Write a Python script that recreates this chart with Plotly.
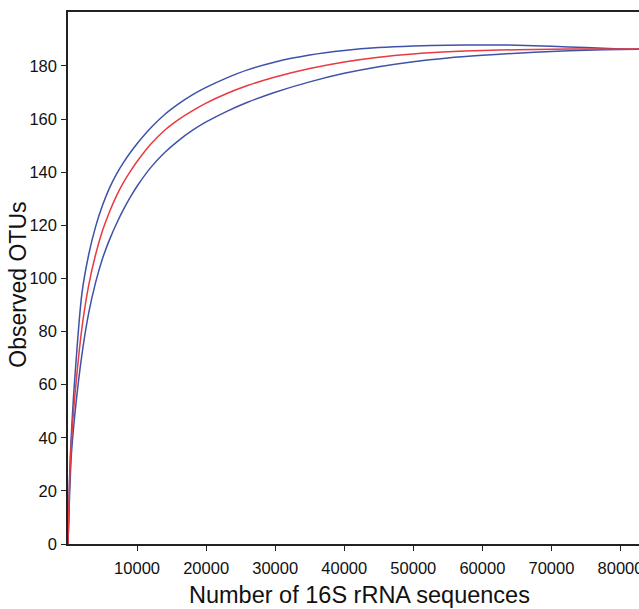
import plotly.graph_objects as go

# Number of 16S rRNA sequences (x) and observed OTUs (mean and bounds)
sequences = [0, 250, 500, 1000, 2000, 3000, 4000, 5000, 6000, 7000, 8000, 9000,
             10000, 12000, 14000, 16000, 18000, 20000, 23000, 26000, 30000,
             35000, 40000, 45000, 50000, 55000, 60000, 65000, 70000, 75000,
             80000, 85000]
otus_mean = [0, 25, 39, 56, 81, 97.5, 109, 118, 125, 131, 136, 140.2,
             144, 150.6, 155.8, 159.8, 163.1, 166, 169.6, 172.6, 175.8,
             179, 181.5, 183.3, 184.5, 185.3, 185.8, 186.1, 186.3, 186.4,
             186.4, 186.4]
otus_upper = [0, 27, 42, 63, 94, 109, 119.5, 127.5, 134, 139.2, 143.5, 147.3,
              150.7, 156.7, 161.7, 165.7, 169.1, 171.9, 175.5, 178.5, 181.5,
              184.1, 185.8, 186.9, 187.5, 187.8, 187.9, 187.8, 187.4, 186.9,
              186.4, 186.2]
otus_lower = [0, 20, 34, 49, 71, 87, 98.5, 107.5, 114.5, 120.5, 125.8, 130.5,
              134.7, 141.8, 147.4, 151.9, 155.7, 158.9, 162.9, 166.3, 170.1,
              174.0, 177.2, 179.7, 181.6, 183, 184, 184.8, 185.4, 185.9,
              186.2, 186.3]

x_ticks = [10000, 20000, 30000, 40000, 50000, 60000, 70000, 80000]
x_tick_labels = ["10000", "20000", "30000", "40000", "50000", "60000", "70000", "80000"]
y_ticks = [0, 20, 40, 60, 80, 100, 120, 140, 160, 180]

BLUE = "rgb(62,82,168)"
RED = "rgb(232,58,64)"

fig = go.Figure()
for ys, col in [(otus_upper, BLUE), (otus_lower, BLUE), (otus_mean, RED)]:
    fig.add_trace(go.Scatter(x=sequences, y=ys, mode="lines",
                             line=dict(color=col, width=1.5, shape="spline", smoothing=0.8),
                             showlegend=False, hoverinfo="skip"))

fig.update_layout(
    width=639, height=609,
    margin=dict(l=68, r=0, t=12, b=65),
    paper_bgcolor="white", plot_bgcolor="white",
    font=dict(family="Liberation Sans, Arial, sans-serif", color="#111"),
    annotations=[
        dict(text="Number of 16S rRNA sequences", xref="paper", yref="paper",
             x=0.51, y=-0.095, xanchor="center", yanchor="middle",
             showarrow=False, font=dict(size=23.5, color="#111")),
        dict(text="Observed OTUs", xref="paper", yref="paper",
             x=-0.088, y=0.487, xanchor="center", yanchor="middle", textangle=-90,
             showarrow=False, font=dict(size=23, color="#111")),
    ],
)
fig.update_xaxes(range=[0, 82680], tickvals=x_ticks, ticktext=x_tick_labels,
                 ticks="outside", ticklen=5, automargin=False, ticklabeloverflow="allow",
                 tickcolor="#222", tickwidth=1.2,
                 tickfont=dict(size=16.5, color="#111"), ticklabelstandoff=3,
                 showline=True, linecolor="#222", linewidth=1.5, mirror=True,
                 showgrid=False, zeroline=False)
fig.update_yaxes(range=[0, 200.3], tickvals=y_ticks, ticks="outside", ticklen=5,
                 tickcolor="#222", tickwidth=1.2, automargin=False,
                 tickfont=dict(size=16.5, color="#111"), ticklabelstandoff=1,
                 showline=True, linecolor="#222", linewidth=1.5, mirror=False,
                 showgrid=False, zeroline=False)

# remove the default 8px page margin so the figure fills the window exactly
fig.write_html("out.html", config={"displayModeBar": False},
               post_script="document.body.style.margin='0';")
